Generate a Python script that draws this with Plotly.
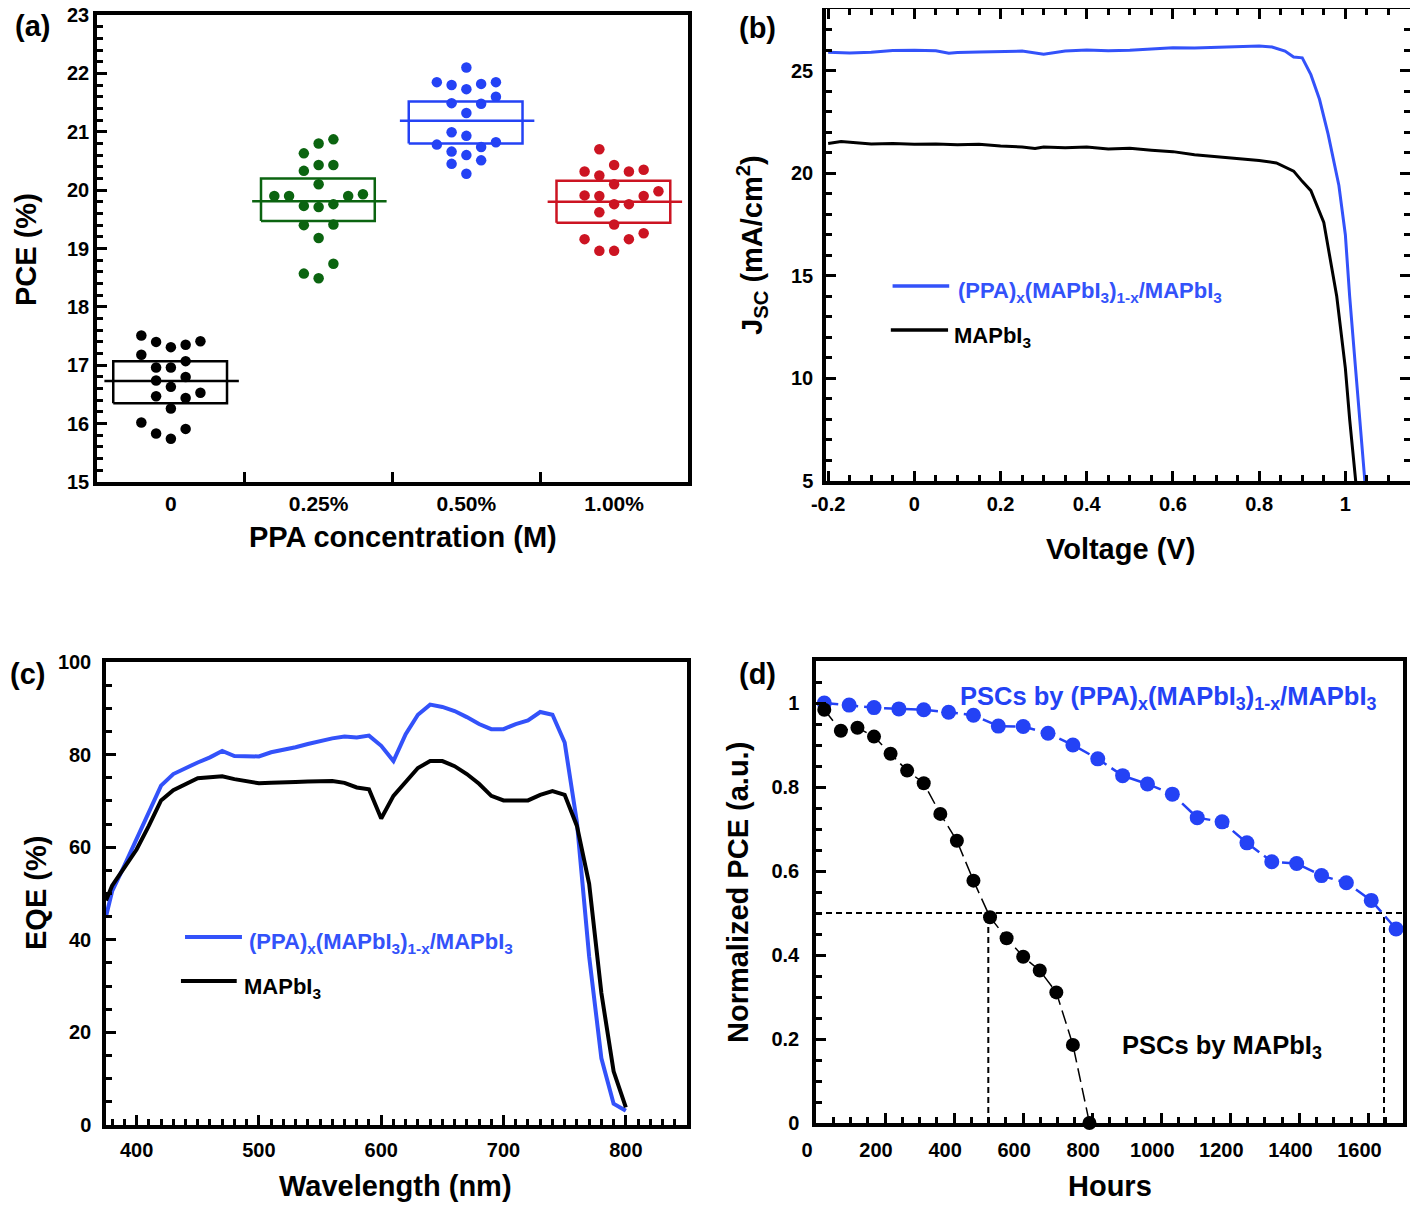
import plotly.graph_objects as go

# ---------------- data ----------------
# (a) PCE distribution
groups = ["0", "0.25%", "0.50%", "1.00%"]
pce_0 = [17.51, 17.40, 17.31, 17.35, 17.41, 17.18, 17.07, 16.96, 16.96, 16.80,
         16.74, 16.63, 16.47, 16.44, 16.53, 16.26, 16.02, 15.91, 15.83, 15.74]
pce_025 = [20.87, 20.80, 20.63, 20.43, 20.43, 20.33, 20.10, 19.90, 19.90, 19.90,
           19.93, 19.73, 19.71, 19.76, 19.40, 19.41, 19.18, 18.74, 18.57, 18.49]
pce_050 = [22.10, 21.85, 21.80, 21.73, 21.82, 21.85, 21.60, 21.49, 21.48, 21.32,
           20.99, 20.93, 20.78, 20.82, 20.66, 20.74, 20.60, 20.45, 20.51, 20.28]
pce_100 = [20.70, 20.32, 20.43, 20.32, 20.35, 20.25, 20.10, 19.98, 19.91, 19.90,
           19.90, 19.76, 19.76, 19.62, 19.41, 19.26, 19.16, 19.16, 18.96, 18.96]
box_q1 = [16.35, 19.47, 20.80, 19.44]
box_q3 = [17.07, 20.20, 21.52, 20.16]
box_med = [16.73, 19.81, 21.19, 19.80]

# (b) J-V curves
v_ppa = [-0.2, -0.15, -0.1, -0.05, 0, 0.05, 0.08, 0.1, 0.15, 0.2, 0.25, 0.3, 0.35, 0.4,
         0.45, 0.5, 0.55, 0.6, 0.65, 0.7, 0.75, 0.8, 0.83, 0.86, 0.88, 0.9, 0.92, 0.94,
         0.96, 0.985, 1.0, 1.01, 1.024, 1.035, 1.043, 1.05]
j_ppa = [25.89, 25.86, 25.89, 25.98, 25.99, 25.96, 25.84, 25.88, 25.9, 25.92, 25.95, 25.8,
         25.95, 26.0, 25.97, 25.99, 26.04, 26.11, 26.1, 26.14, 26.15, 26.2, 26.15, 25.95,
         25.66, 25.62, 24.8, 23.6, 21.9, 19.4, 17.0, 14.0, 10.4, 7.5, 5.0, 3.8]
v_ref = [-0.2, -0.17, -0.1, -0.05, 0, 0.05, 0.1, 0.15, 0.2, 0.25, 0.28, 0.3, 0.35, 0.4,
         0.45, 0.5, 0.55, 0.6, 0.65, 0.7, 0.75, 0.8, 0.84, 0.88, 0.9, 0.92, 0.95, 0.98,
         1.0, 1.01, 1.024, 1.03]
j_ref = [21.45, 21.54, 21.42, 21.45, 21.41, 21.42, 21.39, 21.41, 21.32, 21.28, 21.2, 21.27,
         21.24, 21.28, 21.18, 21.21, 21.12, 21.05, 20.9, 20.8, 20.7, 20.62, 20.5, 20.1,
         19.6, 19.15, 17.6, 14.0, 10.5, 8.0, 5.0, 3.8]

# (c) EQE spectra
wl = [375, 380, 390, 400, 410, 420, 430, 440, 450, 460, 470, 480, 490, 500, 510, 520,
      530, 540, 550, 560, 570, 580, 590, 600, 610, 620, 630, 640, 650, 660, 670, 680,
      690, 700, 710, 720, 730, 740, 750, 760, 770, 780, 790, 800]
eqe_ppa = [45.0, 50.5, 56.0, 61.9, 67.8, 73.3, 75.8, 77.1, 78.3, 79.4, 80.8, 79.7, 79.7,
           79.6, 80.5, 81.0, 81.6, 82.3, 83.0, 83.5, 83.9, 83.7, 84.1, 81.9, 78.6, 84.4,
           88.6, 90.8, 90.3, 89.4, 88.1, 86.6, 85.5, 85.5, 86.6, 87.4, 89.2, 88.6, 82.6,
           65.4, 36.4, 14.4, 4.6, 3.1]
eqe_ref = [48.5, 51.7, 55.6, 59.5, 64.6, 70.1, 72.3, 73.7, 74.9, 75.1, 75.3, 74.7, 74.2,
           73.8, 73.9, 73.9, 74.1, 74.2, 74.2, 74.3, 73.9, 72.9, 72.5, 66.2, 71.1, 74.1,
           77.1, 78.6, 78.6, 77.5, 75.8, 73.7, 71.1, 70.1, 70.1, 70.1, 71.3, 72.1, 71.3,
           64.6, 52.1, 28.5, 11.6, 3.8]

# (d) stability
hours_ppa = [24, 96, 168, 240, 312, 384, 456, 528, 600, 672, 744, 816, 888, 960, 1032,
             1104, 1176, 1248, 1320, 1392, 1464, 1536, 1608, 1680]
norm_ppa = [1.0, 0.995, 0.989, 0.986, 0.984, 0.978, 0.971, 0.945, 0.944, 0.928, 0.900,
            0.867, 0.827, 0.807, 0.783, 0.727, 0.717, 0.667, 0.622, 0.618, 0.589, 0.572,
            0.530, 0.462]
hours_ref = [24, 72, 120, 168, 216, 264, 312, 360, 408, 456, 504, 552, 600, 648, 696,
             744, 792]
norm_ref = [0.984, 0.934, 0.941, 0.920, 0.879, 0.839, 0.809, 0.736, 0.672, 0.577, 0.490,
            0.440, 0.396, 0.363, 0.311, 0.186, 0.0]
t50_hours = [499, 1645]
half_level = 0.5

# ---------------- styles ----------------
FONT = "Liberation Sans Narrow, Liberation Sans, Arial, sans-serif"
BLUE = "#2442f5"
BLUE_LINE = "#3352fa"
GREEN = "#0b6410"
RED = "#cc1422"
BLACK = "#000000"
swarm_dx = {
    0: [-0.2, -0.1, 0, 0.1, 0.2, -0.2, 0.1, -0.1, 0, 0.1, -0.1, 0, -0.1, 0.1, 0.2, 0, -0.2, 0.1, -0.1, 0],
    1: [0.1, 0, -0.1, 0, 0.1, -0.1, 0, -0.3, -0.2, 0.2, 0.3, -0.1, 0, 0.1, -0.1, 0.1, 0, 0.1, -0.1, 0],
    2: [0, -0.2, -0.1, 0, 0.1, 0.2, 0.2, -0.1, 0.1, 0, -0.1, 0, -0.2, 0.2, -0.1, 0.1, 0, -0.1, 0.1, 0],
    3: [-0.1, -0.2, 0, 0.1, 0.2, -0.1, 0, 0.3, -0.2, -0.1, 0.2, 0, 0.1, -0.1, 0, 0.2, -0.2, 0.1, -0.1, 0],
}

fig = go.Figure()

# ---- (a)
for i, (vals, col) in enumerate(zip([pce_0, pce_025, pce_050, pce_100], [BLACK, GREEN, BLUE, RED])):
    xs = [i + d for d in swarm_dx[i]]
    fig.add_trace(go.Scatter(x=xs, y=vals, mode="markers", xaxis="x", yaxis="y",
                             marker=dict(color=col, size=10.5), showlegend=False))
    fig.add_trace(go.Scatter(x=[i - 0.39, i + 0.38, i + 0.38, i - 0.39, i - 0.39],
                             y=[box_q1[i], box_q1[i], box_q3[i], box_q3[i], box_q1[i]],
                             mode="lines", line=dict(color=col, width=2.5),
                             xaxis="x", yaxis="y", showlegend=False))
    fig.add_trace(go.Scatter(x=[i - 0.45, i + 0.46], y=[box_med[i], box_med[i]], mode="lines",
                             line=dict(color=col, width=2.5), xaxis="x", yaxis="y", showlegend=False))

# ---- (b)
fig.add_trace(go.Scatter(x=v_ppa, y=j_ppa, mode="lines", line=dict(color=BLUE_LINE, width=3),
                         xaxis="x2", yaxis="y2", showlegend=False))
fig.add_trace(go.Scatter(x=v_ref, y=j_ref, mode="lines", line=dict(color=BLACK, width=3),
                         xaxis="x2", yaxis="y2", showlegend=False))

# ---- (c)
fig.add_trace(go.Scatter(x=wl, y=eqe_ppa, mode="lines", line=dict(color=BLUE_LINE, width=4),
                         xaxis="x3", yaxis="y3", showlegend=False))
fig.add_trace(go.Scatter(x=wl, y=eqe_ref, mode="lines", line=dict(color=BLACK, width=4),
                         xaxis="x3", yaxis="y3", showlegend=False))

# ---- (d)
fig.add_trace(go.Scatter(x=[0, 1700], y=[half_level, half_level], mode="lines",
                         line=dict(color=BLACK, width=2, dash="6px,4px"),
                         xaxis="x4", yaxis="y4", showlegend=False))
for t in t50_hours:
    fig.add_trace(go.Scatter(x=[t, t], y=[0, half_level], mode="lines",
                             line=dict(color=BLACK, width=2, dash="6px,4px"),
                             xaxis="x4", yaxis="y4", showlegend=False))
fig.add_trace(go.Scatter(x=hours_ppa, y=norm_ppa, mode="lines+markers",
                         line=dict(color=BLUE, width=2.5, dash="14px,6px"),
                         marker=dict(color=BLUE, size=15), cliponaxis=False,
                         xaxis="x4", yaxis="y4", showlegend=False))
fig.add_trace(go.Scatter(x=hours_ref, y=norm_ref, mode="lines+markers",
                         line=dict(color=BLACK, width=1.5, dash="14px,6px"),
                         marker=dict(color=BLACK, size=14), cliponaxis=False,
                         xaxis="x4", yaxis="y4", showlegend=False))

# the page puts an 8px body margin around the plot, so the figure is
# 16px smaller than the window and everything is measured from (8, 8)
W, H, PAD = 1402, 1194, 8


def px_x(p):
    return min(max((p - PAD) / W, 0), 1)


def px_y(p):
    return min(max(1 - (p - PAD) / H, 0), 1)


tickfont = dict(family=FONT, size=20, color="black", weight="bold")
axis_common = dict(showline=True, linewidth=3.5, linecolor="black", showgrid=False,
                   zeroline=False, ticks="inside", tickwidth=3, ticklen=10,
                   tickcolor="black", tickfont=tickfont, automargin=False,
                   ticklabeloverflow="allow")


def minor(**kw):
    opts = dict(ticks="inside", ticklen=6, tickwidth=3, tickcolor="black")
    opts.update(kw)
    return opts


fig.update_layout(
    width=W, height=H, margin=dict(l=0, r=0, t=0, b=0, autoexpand=False),
    paper_bgcolor="white", plot_bgcolor="white",
    font=dict(family=FONT, color="black"),
    # (a)
    xaxis=dict(axis_common, domain=[px_x(97), px_x(688)], anchor="y", range=[-0.5, 3.5],
               tickvals=[0, 1, 2, 3], ticktext=groups, ticklen=0, mirror=True,
               ticklabelstandoff=0, tickfont=dict(tickfont, size=21),
               minor=minor(tickvals=[0.5, 1.5, 2.5], ticklen=10)),
    yaxis=dict(axis_common, domain=[px_y(482), px_y(15)], anchor="x", range=[15, 23],
               tickvals=list(range(15, 24)), mirror=True, ticklabelstandoff=0,
               minor=minor(dtick=0.2)),
    # (b)
    xaxis2=dict(axis_common, domain=[px_x(826), px_x(1412)], anchor="y2", range=[-0.205, 1.15],
                tickvals=[-0.2, 0, 0.2, 0.4, 0.6, 0.8, 1.0],
                ticktext=["-0.2", "0", "0.2", "0.4", "0.6", "0.8", "1"],
                mirror="ticks", ticklabelstandoff=2,
                minor=minor(dtick=0.05, tick0=0)),
    yaxis2=dict(axis_common, domain=[px_y(481), px_y(9)], anchor="x2", range=[5, 28],
                tickvals=[5, 10, 15, 20, 25], mirror="ticks", ticklabelstandoff=5,
                minor=minor(dtick=1)),
    # (c)
    xaxis3=dict(axis_common, domain=[px_x(106), px_x(687)], anchor="y3", range=[375, 850],
                tickvals=[400, 500, 600, 700, 800], mirror=True, ticklabelstandoff=4,
                minor=minor(dtick=10, tick0=0)),
    yaxis3=dict(axis_common, domain=[px_y(1125), px_y(662)], anchor="x3", range=[0, 100],
                tickvals=[0, 20, 40, 60, 80, 100], mirror=True, ticklabelstandoff=7,
                minor=minor(dtick=5)),
    # (d)
    xaxis4=dict(axis_common, domain=[px_x(816), px_x(1403)], anchor="y4", range=[0, 1700],
                tickvals=[0, 200, 400, 600, 800, 1000, 1200, 1400, 1600], mirror=True,
                ticklabelstandoff=6, ticklabelshift=-9,
                minor=minor(dtick=50, tick0=0)),
    yaxis4=dict(axis_common, domain=[px_y(1123), px_y(661)], anchor="x4", range=[0, 1.1],
                tickvals=[0, 0.2, 0.4, 0.6, 0.8, 1.0],
                ticktext=["0", "0.2", "0.4", "0.6", "0.8", "1"], mirror=True,
                ticklabelstandoff=9,
                minor=minor(dtick=0.05, tick0=0)),
)

# legend keys drawn as short segments
legend_keys = [
    ("x2", "y2", 0.114, 0.211, 0.413, BLUE_LINE, 3.5),
    ("x2", "y2", 0.111, 0.209, 0.320, BLACK, 3.5),
    ("x3", "y3", 0.136, 0.234, 0.406, BLUE_LINE, 4),
    ("x3", "y3", 0.129, 0.225, 0.311, BLACK, 4),
]
for xr, yr, x0, x1, yy, col, w in legend_keys:
    fig.add_shape(type="line", xref=xr + " domain", yref=yr + " domain",
                  x0=x0, x1=x1, y0=yy, y1=yy, line=dict(color=col, width=w))

ppa_label = "(PPA)<sub>x</sub>(MAPbI<sub>3</sub>)<sub>1-x</sub>/MAPbI<sub>3</sub>"
ref_label = "MAPbI<sub>3</sub>"


def note(text, x, y, size, color="black", xref="paper", yref="paper", angle=0,
         xanchor="center", yanchor="middle"):
    fig.add_annotation(text="<b>" + text + "</b>", x=x, y=y, xref=xref, yref=yref,
                       showarrow=False, textangle=angle, xanchor=xanchor, yanchor=yanchor,
                       font=dict(family=FONT, size=size, color=color))


# legend texts
note(ppa_label, 0.223, 0.40, 22, BLUE_LINE, "x2 domain", "y2 domain", xanchor="left")
note(ref_label, 0.216, 0.305, 22, BLACK, "x2 domain", "y2 domain", xanchor="left")
note(ppa_label, 0.243, 0.393, 22, BLUE_LINE, "x3 domain", "y3 domain", xanchor="left")
note(ref_label, 0.234, 0.296, 22, BLACK, "x3 domain", "y3 domain", xanchor="left")
note("PSCs by " + ppa_label, 0.242, 0.92, 25.5, BLUE, "x4 domain", "y4 domain", xanchor="left")
note("PSCs by " + ref_label, 0.518, 0.165, 25.5, BLACK, "x4 domain", "y4 domain", xanchor="left")

# axis titles
note("PCE (%)", px_x(26), px_y(250), 29, angle=-90)
note("PPA concentration (M)", px_x(403), px_y(537), 29)
note("J<sub>SC</sub> (mA/cm<sup>2</sup>)", px_x(752), px_y(245), 29, angle=-90)
note("Voltage (V)", px_x(1120), px_y(549), 29)
note("EQE (%)", px_x(36), px_y(893), 29, angle=-90)
note("Wavelength (nm)", px_x(395), px_y(1186), 29)
note("Normalized PCE (a.u.)", px_x(738), px_y(893), 29, angle=-90)
note("Hours", px_x(1110), px_y(1186), 29)

# panel labels
note("(a)", px_x(32), px_y(26), 29)
note("(b)", px_x(757), px_y(28), 29)
note("(c)", px_x(27), px_y(674), 29)
note("(d)", px_x(757), px_y(674), 29)

fig.write_html("out.html")
